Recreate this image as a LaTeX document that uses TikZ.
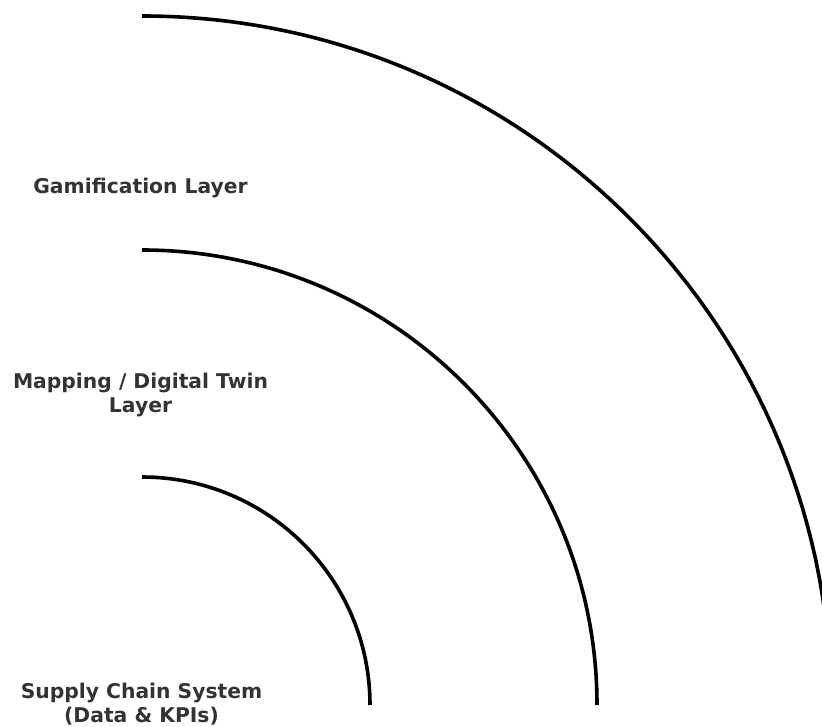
\documentclass[tikz,border=0pt]{standalone}
\usepackage{fontspec}
\setmainfont{DejaVu Sans}
\definecolor{labelgray}{HTML}{333333}
\begin{document}
\begin{tikzpicture}[x=1pt,y=1pt,
  ring/.style={line width=3.6pt, black},
  layerlabel/.style={font=\bfseries\fontsize{20.3}{24}\selectfont, text=labelgray, align=center, inner sep=0pt}]
\useasboundingbox (0,0) rectangle (822,726);
\clip (0,0) rectangle (822,726);
\coordinate (c) at (142,21);
\draw[ring] (142,249) coordinate (r1s) arc[start angle=90, end angle=0, radius=228] coordinate (r1e);
\draw[ring] (142,476) coordinate (r2s) arc[start angle=90, end angle=0, radius=455] coordinate (r2e);
\draw[ring] (142,710) coordinate (r3s) arc[start angle=90, end angle=0, radius=689] coordinate (r3e);
\node[layerlabel] (gam) at (140.5,538) {Gamification Layer};
\node[layerlabel] (map) at (140.5,331.5) {Mapping / Digital Twin\\Layer};
\node[layerlabel] (sup) at (141.5,22) {Supply Chain System\\(Data \& KPIs)};
\end{tikzpicture}
\end{document}
